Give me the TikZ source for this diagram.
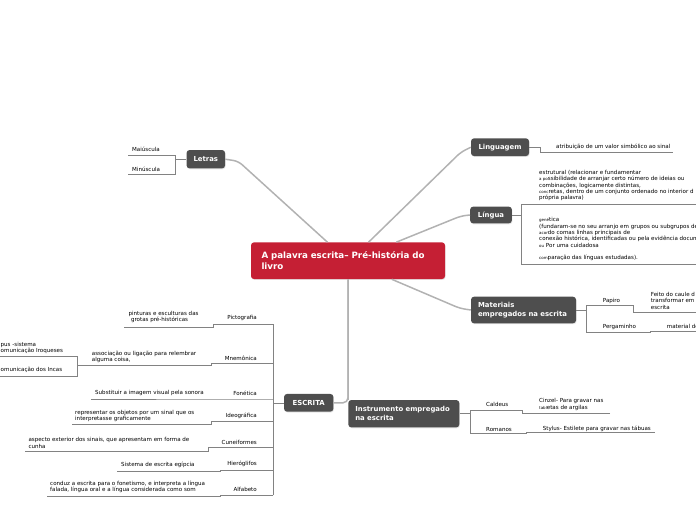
\documentclass[tikz,border=0pt]{standalone}
\usepackage{fontspec}
\setmainfont{DejaVu Sans}
\usepackage{tikz}
\usetikzlibrary{positioning,shadows}
\definecolor{rootred}{RGB}{197,31,52}
\definecolor{topicgray}{RGB}{78,78,78}
\definecolor{branchgray}{RGB}{178,178,178}
\definecolor{twiggray}{RGB}{130,130,130}
\newcommand{\smtxt}[1]{{\fontsize{4}{4}\selectfont #1}}

\begin{document}
\begin{tikzpicture}[x=1pt,y=-1pt,
  rootbox/.style={fill=rootred,text=white,rounded corners=3pt,font=\bfseries\fontsize{8.7}{11.6}\selectfont,align=left,text width=173pt,inner xsep=10.5pt,minimum height=36.7pt,drop shadow={opacity=.2,shadow xshift=.6pt,shadow yshift=-.9pt}},
  topic/.style={fill=topicgray,text=white,rounded corners=3pt,font=\bfseries\fontsize{6.9}{9}\selectfont,align=left,inner xsep=7pt,inner ysep=0pt,drop shadow={opacity=.2,shadow xshift=.6pt,shadow yshift=-.9pt}},
  leaf/.style={font=\fontsize{5.55}{6.3}\selectfont,inner sep=0pt,anchor=south west,align=left},
  branch/.style={draw=branchgray,line width=1.5pt,rounded corners=5pt},
  twig/.style={draw=twiggray,line width=.6pt}]
  \useasboundingbox (0,0) rectangle (696,520);
  \clip (0,0) rectangle (696,520);

  \node[rootbox] (livro) at (348,260.7) {A palavra escrita– Pré-história do\\livro};
  \node[topic,minimum width=38.3pt,minimum height=18.3pt] (letras) at (205.8,159.2) {Letras};
  \node[topic,minimum width=58pt,minimum height=17.7pt] (linguagem) at (500,147.2) {Linguagem};
  \node[topic,minimum width=41.7pt,minimum height=16.7pt] (lingua) at (491,215) {Língua};
  \node[topic,text width=91pt,minimum height=26.6pt] (materiais) at (523.5,310) {Materiais\\empregados na escrita};
  \node[topic,minimum width=49.3pt,minimum height=17.7pt] (escrita) at (308.7,402.8) {ESCRITA};
  \node[topic,text width=97pt,minimum height=27.3pt] (instrumento) at (403.8,413.7) {Instrumento empregado\\na escrita};

  \draw[branch] (livro.138) -- ([xshift=13pt,yshift=-2pt]letras.east) -- (letras.east);
  \draw[branch] (livro.42) -- ([xshift=-10pt,yshift=-5pt]linguagem.west) -- (linguagem.west);
  \draw[branch] (livro.21) -- ([xshift=-9pt,yshift=-1pt]lingua.west) -- (lingua.west);
  \draw[branch] (livro.-23) -- ([xshift=-11pt,yshift=1.7pt]materiais.west) -- (materiais.west);
  \draw[branch] (livro.south) |- (escrita.east);
  \draw[branch] (livro.south) -- (instrumento.north west);

  \coordinate (letrasj) at (175,159.2);
  \draw[twig] (letras.west) -- (letrasj);
  \draw[twig] (128.3,155) -- (175,155) -- (175,174.3) -- (128.3,174.3);
  \node[leaf] (maiuscula) at (132,151.8) {Maiúscula};
  \node[leaf] (minuscula) at (132,171.8) {Minúscula};

  \draw[twig] (linguagem.east) -- (540,147.2) -- (540,152.7) -- (673.3,152.7);
  \node[leaf] (atribuicao) at (556,149.5) {atribuição de um valor simbólico ao sinal};

  \coordinate (linguaj) at (521.7,215);
  \draw[twig] (lingua.east) -- (linguaj);
  \draw[twig] (700,204.3) -- (521.7,204.3) -- (521.7,264.3) -- (700,264.3);
  \node[leaf] (estrutural) at (539,201.1) {estrutural (relacionar e fundamentar\\\smtxt{a po}ssibilidade de arranjar certo número de ideias ou\\combinações, logicamente distintas,\\\smtxt{conc}retas, dentro de um conjunto ordenado no interior d\\própria palavra)};
  \node[leaf] (genetica) at (539,261.1) {\smtxt{gené}tica\\(fundaram-se no seu arranjo em grupos ou subgrupos de\\\smtxt{acor}do comas linhas principais de\\conexão histórica, identificadas ou pela evidência docum\\\smtxt{ou} Por uma cuidadosa\\[6.3pt]\smtxt{com}paração das línguas estudadas).};

  \coordinate (materiaisj) at (586,310);
  \draw[twig] (materiais.east) -- (materiaisj);
  \draw[twig] (700,312.3) -- (633.3,312.3) -- (633.3,305.7) -- (586,305.7) -- (586,332.3) -- (650,332.3) -- (650,331) -- (700,331);
  \node[leaf] (papiro) at (602.7,303.5) {Papiro};
  \node[leaf] (caule) at (650.7,309.5) {Feito do caule d\\transformar em\\escrita};
  \node[leaf] (pergaminho) at (602.7,329.5) {Pergaminho};
  \node[leaf] (material) at (666.7,328.5) {material de};

  \coordinate (escritaj) at (273.3,402.8);
  \draw[twig] (escrita.west) -- (escritaj);
  \draw[twig] (273.3,324) -- (273.3,495);
  \foreach \lab/\uy/\jx/\cy/\cx/\tx/\ty/\txt [count=\i] in {
    Pictografia/324/213.3/327/124.3/128.3/320/{pinturas e esculturas das\\\hspace*{2.5pt}grotas pré-históricas},
    Mnemônica/363.3/211.3/365.7/77.7/91.7/360/{associação ou ligação para relembrar\\alguma coisa,},
    Fonética/399/220/399/90.7/95/393.3/{Substituir a imagem visual pela sonora},
    Ideográfica/421.7/211.7/424.3/72/75/419.3/{representar os objetos por um sinal que os\\interpretasse graficamente},
    Cuneiformes/447.7/208.3/451/25/28.3/445.7/{aspecto exterior dos sinais, que apresentam em forma de\\cunha},
    Hieróglifos/470/220/471/117/121/465/{Sistema de escrita egípcia},
    Alfabeto/495/220/496.7/46.7/50/490/{conduz a escrita para o fonetismo, e interpreta a língua\\falada, língua oral e a língua considerada como som}} {
    \draw[twig] (273.3,\uy) -- (\jx,\uy) -- (\jx,\cy) -- (\cx,\cy);
    \node[leaf,anchor=south east] (tipo\i) at (257,\uy-2.8) {\lab};
    \node[leaf] (expl\i) at (\tx,\ty+2.8) {\txt};
  }
  \draw[twig] (-2,356) -- (77.7,356) -- (77.7,376) -- (-2,376);
  \node[leaf] (iroqueses) at (0.5,353.8) {pus -sistema\\omunicação Iroqueses};
  \node[leaf] (incas) at (0.5,372.8) {omunicação dos Incas};

  \coordinate (instrumentoj) at (470,413.7);
  \draw[twig] (instrumento.east) -- (instrumentoj);
  \draw[twig] (610,413.3) -- (522.7,413.3) -- (522.7,410.7) -- (470,410.7) -- (470,433) -- (526.7,433) -- (526.7,432.3) -- (655,432.3);
  \node[leaf] (caldeus) at (486,407.1) {Caldeus};
  \node[leaf] (cinzel) at (539,410.5) {Cinzel- Para gravar nas\\\smtxt{tabl}etas de argilas};
  \node[leaf] (romanos) at (486,432.1) {Romanos};
  \node[leaf] (stylus) at (542.7,432.1) {Stylus- Estilete para gravar nas tábuas};
\end{tikzpicture}
\end{document}
